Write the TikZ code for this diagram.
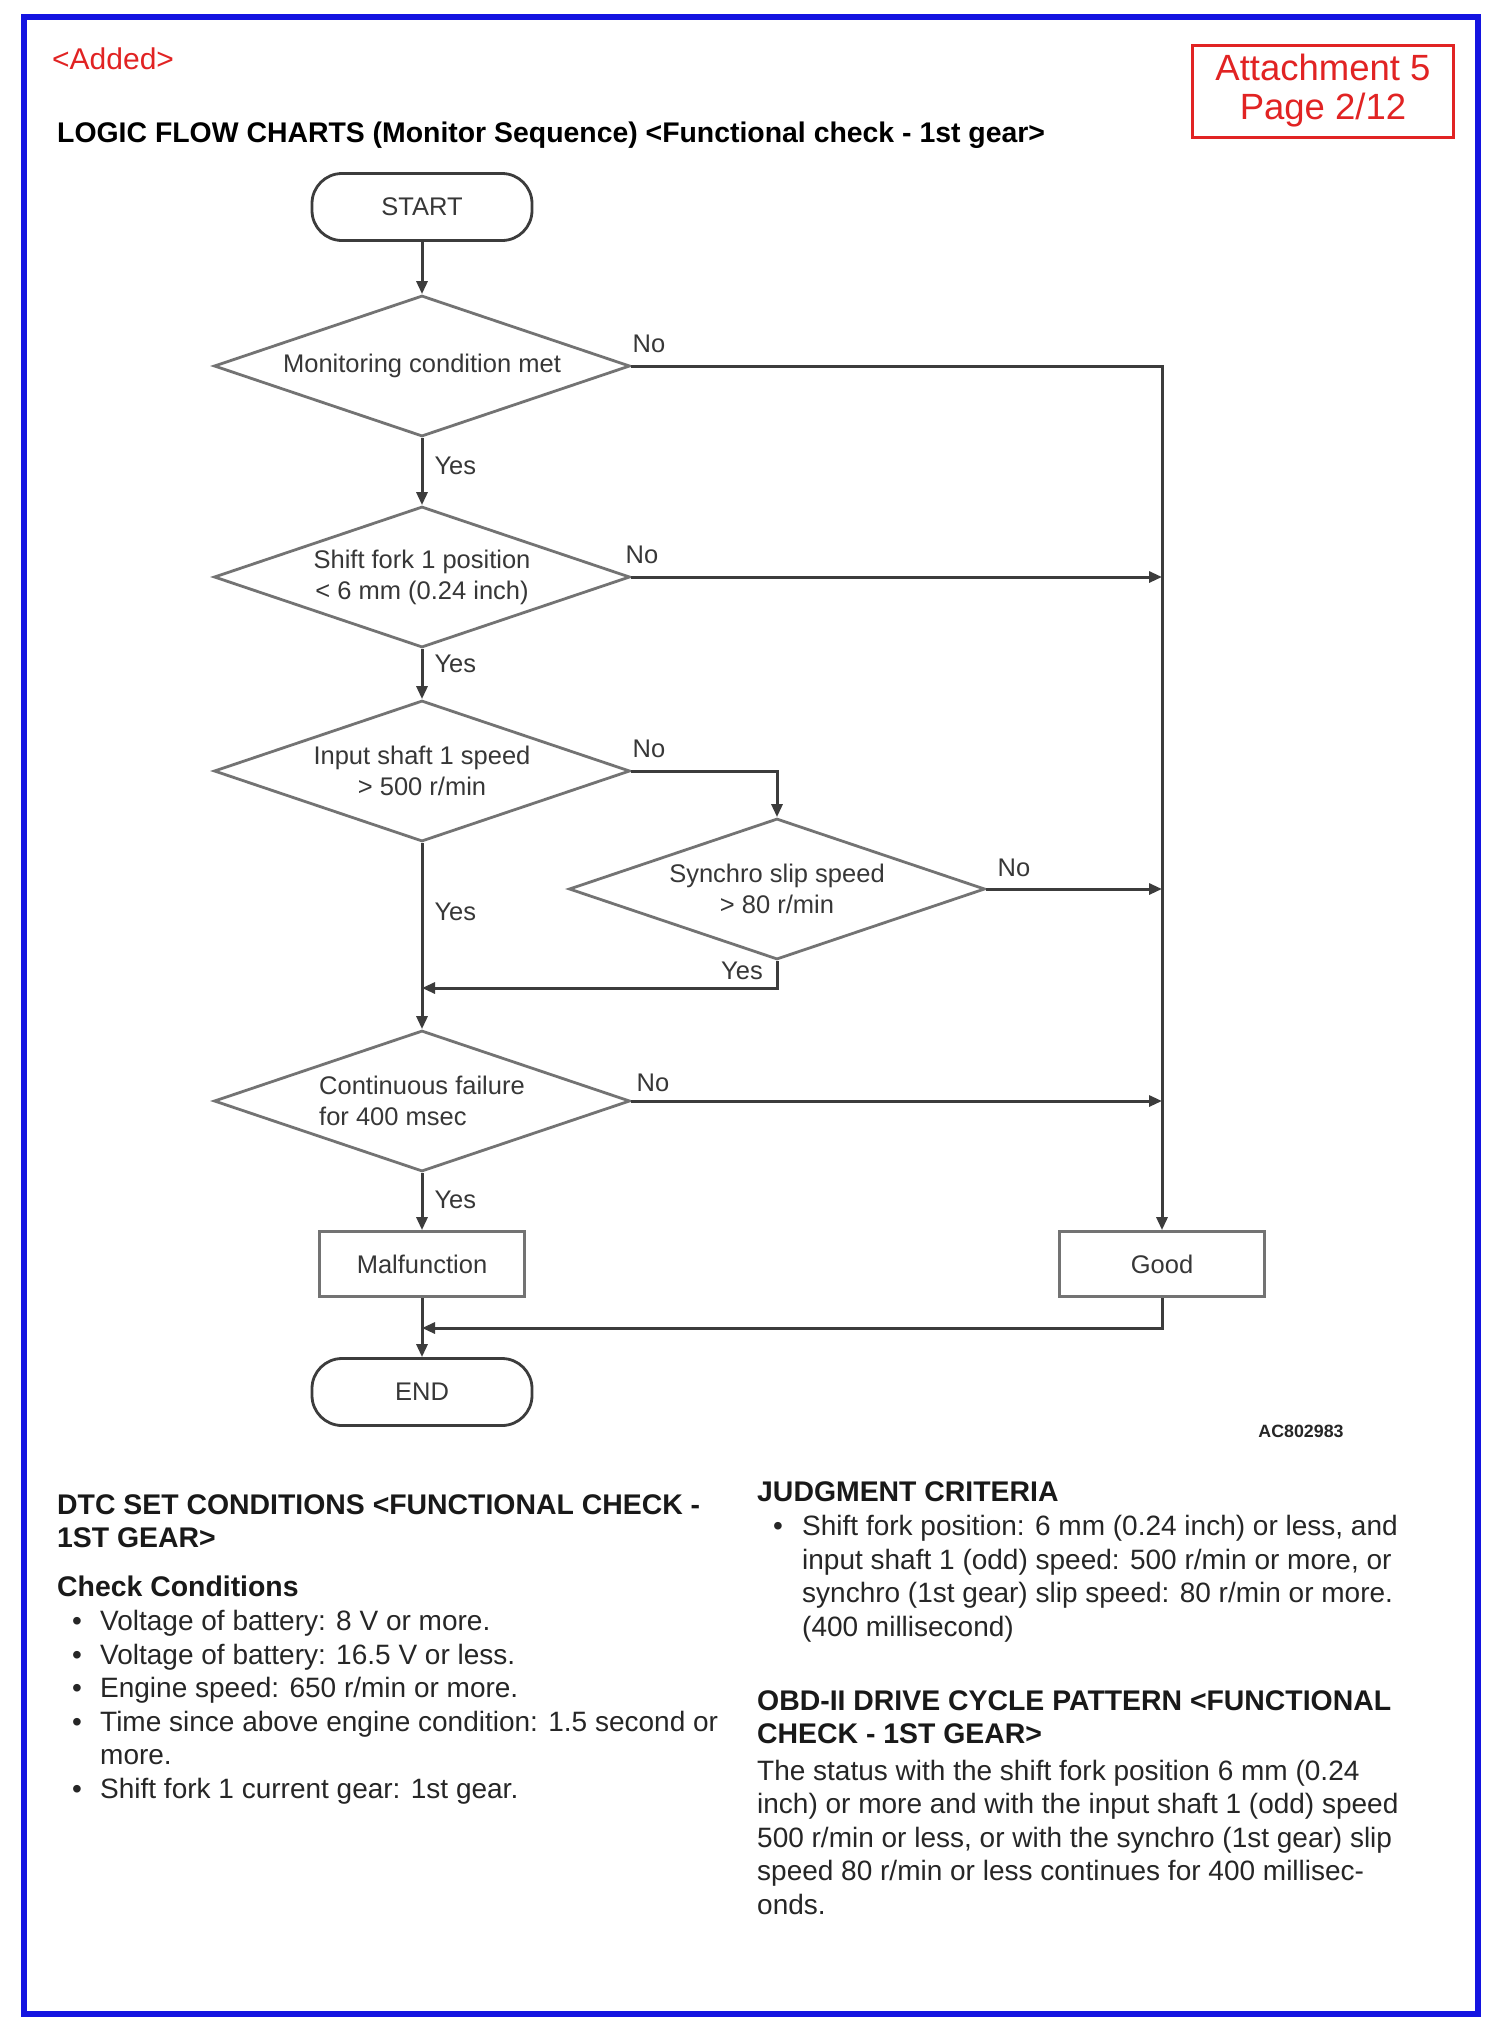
\documentclass[tikz,border=0pt]{standalone}
\usepackage{fontspec}
\setmainfont{Liberation Sans}
\usetikzlibrary{shapes.geometric,arrows.meta,positioning}

\definecolor{frameblue}{RGB}{20,20,225}
\definecolor{stampred}{RGB}{225,35,35}
\definecolor{linegray}{RGB}{60,60,60}
\definecolor{boxgray}{RGB}{115,115,115}
\definecolor{txtgray}{RGB}{55,55,55}

\tikzset{
  chart/.style={font=\fontsize{25.5}{31}\selectfont, text=txtgray},
  decision/.style={chart, diamond, draw=boxgray, line width=2.8pt, aspect=3, inner sep=0pt,
    minimum width=416pt, minimum height=141pt, align=center},
  terminal/.style={chart, rectangle, rounded corners=30pt, draw=linegray, line width=2.8pt,
    minimum width=220pt, minimum height=67pt},
  result/.style={chart, rectangle, draw=boxgray, line width=2.8pt,
    minimum width=205pt, minimum height=65pt},
  flow/.style={draw=linegray, line width=3pt, -{Triangle[length=13pt,width=11pt]}},
  lbl/.style={chart, inner sep=1pt},
  body/.style={font=\fontsize{28}{33.5}\selectfont, text=black!85, align=left,
    inner sep=0pt, anchor=base west},
  heading/.style={body, font=\bfseries\fontsize{28.4}{33}\selectfont, text=black!90}
}

\begin{document}
\begin{tikzpicture}[x=1pt,y=-1pt]
 \fill[white] (0,0) rectangle (1495,2035);
 \useasboundingbox (0,0) rectangle (1495,2035);
 \draw[frameblue, line width=6pt] (24,17) rectangle (1478,2014);

 % page header
 \node[anchor=base west, inner sep=0pt, text=stampred, font=\fontsize{30}{34}\selectfont] (added) at (52,69) {<Added>};
 \node[draw=stampred, line width=3pt, text=stampred, align=center, minimum width=261pt, minimum height=92pt,
   inner sep=0pt, font=\fontsize{36.5}{39}\selectfont] (attach) at (1323,91) {Attachment 5\\Page 2/12};
 \node[anchor=base west, inner sep=0pt, font=\bfseries\fontsize{28.4}{33}\selectfont] (title) at (57,142)
   {LOGIC FLOW CHARTS (Monitor Sequence) <Functional check - 1st gear>};

 % flow chart
 \node[terminal] (start) at (422,207) {START};
 \node[decision] (mon) at (422,366) {Monitoring condition met};
 \node[decision] (fork) at (422,577) {Shift fork 1 position\\< 6 mm (0.24 inch)};
 \node[decision] (shaft) at (422,771) {Input shaft 1 speed\\> 500 r/min};
 \node[decision] (synchro) at (777,889) {Synchro slip speed\\> 80 r/min};
 \node[decision, align=left] (fail) at (422,1101) {Continuous failure\\for 400 msec};
 \node[result] (malf) at (422,1264) {Malfunction};
 \node[result] (good) at (1162,1264) {Good};
 \node[terminal] (stop) at (422,1392) {END};
 \coordinate (join) at (422,988);
 \coordinate (merge) at (422,1328);

 \draw[flow] (start) -- (mon);
 \draw[flow] (mon) -- node[lbl, right=10pt, pos=0.41] (yes1) {Yes} (fork);
 \draw[flow] (fork) -- node[lbl, right=10pt, pos=0.3] (yes2) {Yes} (shaft);
 \draw[flow] (shaft) -- node[lbl, right=10pt, pos=0.37] (yes3) {Yes} (fail);
 \draw[flow] (fail) -- node[lbl, right=10pt, pos=0.47] (yes5) {Yes} (malf);
 \draw[flow] (malf) -- (stop);

 \draw[flow] (mon.east) -- (good |- mon.east) -- (good.north);
 \draw[flow] (fork.east) -- (good |- fork.east);
 \draw[flow] (shaft.east) -- (synchro |- shaft.east) -- (synchro.north);
 \draw[flow] (synchro.east) -- (good |- synchro.east);
 \draw[flow] (synchro.south) |- (join);
 \draw[flow] (fail.east) -- (good |- fail.east);
 \draw[flow] (good.south) |- (merge);

 \node[lbl, anchor=south west] (no1) at ([yshift=12pt]mon.east) {No};
 \node[lbl, anchor=south west] (no2) at ([xshift=-7pt,yshift=12pt]fork.east) {No};
 \node[lbl, anchor=south west] (no3) at ([yshift=12pt]shaft.east) {No};
 \node[lbl, anchor=south west] (no4) at ([xshift=10pt,yshift=11pt]synchro.east) {No};
 \node[lbl, anchor=south west] (no5) at ([xshift=4pt,yshift=8pt]fail.east) {No};
 \node[lbl, anchor=north east] (yes4) at ([xshift=-13pt]synchro.south) {Yes};

 \node[inner sep=0pt, font=\bfseries\fontsize{17.8}{20}\selectfont, text=black!85] (code) at (1301,1431) {AC802983};

 % text below the chart (base = last line)
 \node[heading] (dtc) at (57,1547) {DTC SET CONDITIONS <FUNCTIONAL CHECK -\\1ST GEAR>};
 \node[heading] (check) at (57,1596) {Check Conditions};
 \node[body] (checklist) at (72,1798) {\makebox[28pt][l]{\textbullet}Voltage of battery: 8 V or more.\\
   \makebox[28pt][l]{\textbullet}Voltage of battery: 16.5 V or less.\\
   \makebox[28pt][l]{\textbullet}Engine speed: 650 r/min or more.\\
   \makebox[28pt][l]{\textbullet}Time since above engine condition: 1.5 second or\\
   \hspace*{28pt}more.\\
   \makebox[28pt][l]{\textbullet}Shift fork 1 current gear: 1st gear.};

 \node[heading] (judge) at (757,1501) {JUDGMENT CRITERIA};
 \node[body] (judgelist) at (773,1636) {\makebox[29pt][l]{\textbullet}Shift fork position: 6 mm (0.24 inch) or less, and\\
   \hspace*{29pt}input shaft 1 (odd) speed: 500 r/min or more, or\\
   \hspace*{29pt}synchro (1st gear) slip speed: 80 r/min or more.\\
   \hspace*{29pt}(400 millisecond)};

 \node[heading] (obd) at (757,1743) {OBD-II DRIVE CYCLE PATTERN <FUNCTIONAL\\CHECK - 1ST GEAR>};
 \node[body] (obdtext) at (757,1914) {The status with the shift fork position 6 mm (0.24\\
   inch) or more and with the input shaft 1 (odd) speed\\
   500 r/min or less, or with the synchro (1st gear) slip\\
   speed 80 r/min or less continues for 400 millisec-\\
   onds.};
\end{tikzpicture}
\end{document}
